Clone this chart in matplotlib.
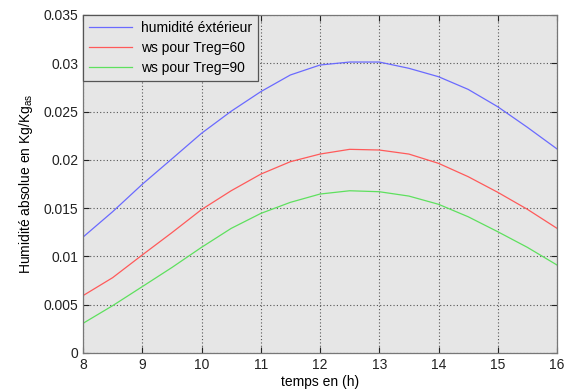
import matplotlib
matplotlib.use("Agg")
import matplotlib.pyplot as plt

hours = [8, 8.5, 9, 9.5, 10, 10.5, 11, 11.5, 12, 12.5, 13, 13.5, 14, 14.5, 15, 15.5, 16]
humid_ext = [0.0120, 0.01463, 0.01747, 0.02010, 0.02275, 0.02503, 0.02706, 0.02879, 0.02982,
             0.03013, 0.03013, 0.02948, 0.02861, 0.02730, 0.02550, 0.02337, 0.02113]
ws_60 = [0.00594, 0.0078, 0.01015, 0.01246, 0.01485, 0.01680, 0.01852, 0.01981, 0.02060,
         0.02109, 0.02102, 0.02060, 0.01964, 0.01826, 0.01664, 0.01488, 0.01291]
ws_90 = [0.00307, 0.0049, 0.00687, 0.00885, 0.01094, 0.01290, 0.01445, 0.01560, 0.01646,
         0.01680, 0.01670, 0.01625, 0.01540, 0.01411, 0.01256, 0.01094, 0.00911]
labels = ["humidité éxtérieur", "ws pour Treg=60", "ws pour Treg=90"]
xticks = [8, 9, 10, 11, 12, 13, 14, 15, 16]
yticks = [0, 0.005, 0.01, 0.015, 0.02, 0.025, 0.03, 0.035]
yticklabels = ["0", "0.005", "0.01", "0.015", "0.02", "0.025", "0.03", "0.035"]

plt.rcParams['font.family'] = ['Liberation Sans', 'DejaVu Sans']

fig = plt.figure(figsize=(5.70, 3.91), dpi=100)
ax = fig.add_axes([83/570, 1-353/391, (557-83)/570, (353-15)/391])
ax.set_facecolor('#e6e6e6')

ax.plot(hours, humid_ext, color='#6a6aff', lw=0.9, label=labels[0])
ax.plot(hours, ws_60, color='#ff5a5a', lw=0.9, label=labels[1])
ax.plot(hours, ws_90, color='#5ee05e', lw=0.9, label=labels[2])

ax.set_xlim(8, 16)
ax.set_ylim(0, 0.035)
ax.set_xticks(xticks)
ax.set_yticks(yticks)
ax.set_yticklabels(yticklabels)
ax.tick_params(direction='in', top=True, right=True, labelsize=10, colors='#222222',
               length=4, width=0.8)
for s in ax.spines.values():
    s.set_color('#777777')
    s.set_linewidth(0.9)
ax.grid(True, linestyle=(0, (1, 2)), color='#555555', linewidth=0.8)

ax.set_xlabel("temps en (h)", fontsize=10, labelpad=2)
ax.set_ylabel("Humidité absolue en Kg/Kg$_{\\mathregular{as}}$", fontsize=10, labelpad=6)

leg = ax.legend(loc='upper left', fontsize=10, frameon=True, fancybox=False,
                borderaxespad=0, handlelength=3.1, handletextpad=0.6,
                borderpad=0.45, labelspacing=0.42)
leg.get_frame().set_facecolor('#e6e6e6')
leg.get_frame().set_edgecolor('#555555')
leg.get_frame().set_alpha(1)
leg.get_frame().set_linewidth(0.9)

fig.savefig("out.png", dpi=100, facecolor='white')
